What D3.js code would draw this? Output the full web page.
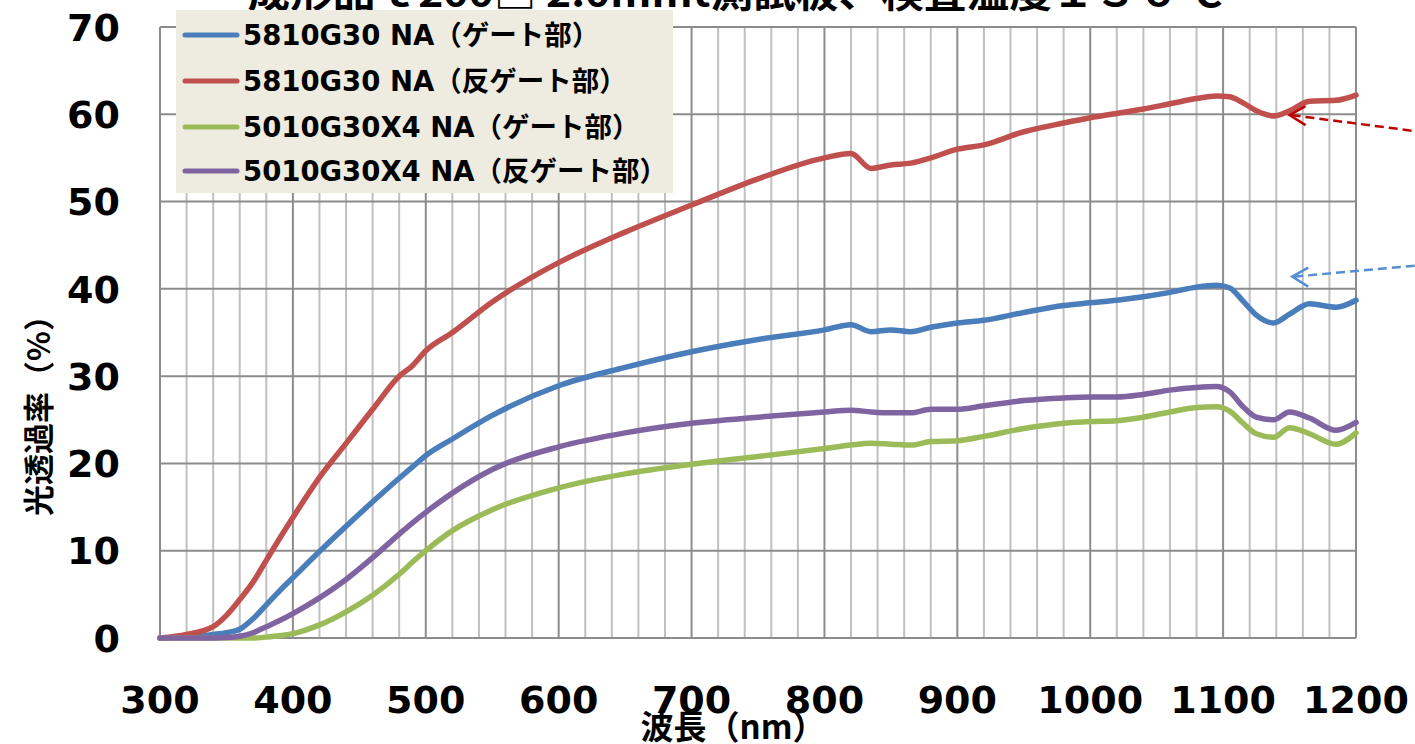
<!DOCTYPE html>
<html>
<head>
<meta charset="utf-8">
<script src="https://cdn.jsdelivr.net/npm/d3@7"></script>
<style>
  body { margin: 0; background: #ffffff; }
  svg { display: block; }
</style>
</head>
<body>
<div id="chart"></div>
<script>
// wavelength (nm) shared by all series
const wavelengths = [300, 320, 340, 350, 360, 370, 380, 390, 400, 420, 440, 460, 480, 490, 500,
  520, 550, 600, 650, 700, 750, 800, 820, 835, 850, 865, 880, 900, 920, 950, 980, 1000,
  1020, 1040, 1060, 1080, 1095, 1105, 1115, 1125, 1138, 1150, 1165, 1185, 1200];

const blueGate = [0, 0.1, 0.4, 0.6, 1.0, 2.2, 3.8, 5.4, 6.9, 9.9, 12.8, 15.6, 18.3, 19.6, 20.9,
  22.8, 25.5, 28.9, 31.0, 32.8, 34.2, 35.3, 35.9, 35.1, 35.3, 35.1, 35.6, 36.1, 36.4, 37.3, 38.1, 38.4,
  38.7, 39.1, 39.6, 40.2, 40.4, 40.1, 38.6, 37.0, 36.1, 37.1, 38.3, 37.9, 38.7];

const redAntiGate = [0, 0.4, 1.3, 2.6, 4.4, 6.4, 8.9, 11.4, 13.8, 18.4, 22.3, 26.2, 30.0, 31.2, 32.9,
  35.0, 38.5, 43.0, 46.5, 49.6, 52.6, 55.0, 55.5, 53.8, 54.2, 54.4, 55.0, 56.0, 56.5, 58.0, 59.0, 59.6,
  60.1, 60.6, 61.2, 61.8, 62.1, 62.0, 61.3, 60.4, 59.8, 60.4, 61.5, 61.6, 62.2];

const greenGate = [0, 0, 0, 0, 0, 0, 0.1, 0.25, 0.5, 1.5, 3.0, 4.9, 7.3, 8.7, 10.0,
  12.3, 14.7, 17.2, 18.8, 19.9, 20.8, 21.7, 22.1, 22.3, 22.2, 22.1, 22.5, 22.6, 23.1, 24.0, 24.6, 24.8,
  24.9, 25.3, 25.9, 26.4, 26.5, 26.0, 24.6, 23.4, 23.0, 24.1, 23.4, 22.2, 23.5];

const purpleAntiGate = [0, 0, 0, 0.05, 0.2, 0.6, 1.3, 2.0, 2.8, 4.6, 6.7, 9.2, 11.9, 13.2, 14.4,
  16.6, 19.3, 21.9, 23.5, 24.6, 25.3, 25.9, 26.1, 25.9, 25.8, 25.8, 26.2, 26.2, 26.6, 27.2, 27.5, 27.6,
  27.6, 27.9, 28.4, 28.7, 28.8, 28.2, 26.5, 25.3, 25.0, 25.9, 25.2, 23.8, 24.7];

const seriesNames = [
  "5810G30 NA（ゲート部）",
  "5810G30 NA（反ゲート部）",
  "5010G30X4 NA（ゲート部）",
  "5010G30X4 NA（反ゲート部）"
];
const seriesValues = [blueGate, redAntiGate, greenGate, purpleAntiGate];
const seriesColors = ["#4a7ebb", "#c0504d", "#9bbb59", "#8064a2"];

const xTicks = [300, 400, 500, 600, 700, 800, 900, 1000, 1100, 1200];
const xMinorTicks = d3.range(300, 1201, 20);
const yTicks = [0, 10, 20, 30, 40, 50, 60, 70];

const titleText = "成形品ｔ200□ 2.0mmt測試板、検査温度１３０℃";
const xTitle = "波長（nm）";
const yTitle = "光透過率（%）";

// arrows pointing at the dips (tip in data units)
const arrowTips = [
  { nm: 1150, v: 59.9, tailV: 58.0, color: "#c00000" },
  { nm: 1152, v: 41.4, tailV: 42.7, color: "#558ed5" }
];

const width = 1415, height = 744;
const margin = { left: 160, right: 59, top: 27, bottom: 106 };
const latin = "'DejaVu Sans', 'Noto Sans CJK JP', sans-serif";
const cjk = "'Noto Sans CJK JP', 'DejaVu Sans', sans-serif";

const svg = d3.select("#chart").append("svg")
  .attr("width", width)
  .attr("height", height);

const x = d3.scaleLinear()
  .domain([300, 1200])
  .range([margin.left, width - margin.right]);

const y = d3.scaleLinear()
  .domain([0, 70])
  .range([height - margin.bottom, margin.top]);

// title (mostly cut off at the top)
svg.append("text")
  .attr("x", 735)
  .attr("y", 7)
  .attr("text-anchor", "middle")
  .attr("textLength", 975)
  .attr("lengthAdjust", "spacingAndGlyphs")
  .style("font-family", cjk)
  .style("font-weight", "700")
  .style("font-size", "38px")
  .attr("fill", "#000")
  .text(titleText);

const grid = svg.append("g");

grid.selectAll("line.minor")
  .data(xMinorTicks.filter(d => d % 100 !== 0))
  .join("line")
  .attr("class", "minor")
  .attr("x1", d => x(d)).attr("x2", d => x(d))
  .attr("y1", y(0)).attr("y2", y(70))
  .attr("stroke", "#c0c0c0")
  .attr("stroke-width", 2);

grid.selectAll("line.majorx")
  .data(xTicks)
  .join("line")
  .attr("class", "majorx")
  .attr("x1", d => x(d)).attr("x2", d => x(d))
  .attr("y1", y(0)).attr("y2", y(70))
  .attr("stroke", "#8c8c8c")
  .attr("stroke-width", 2);

grid.selectAll("line.majory")
  .data(yTicks)
  .join("line")
  .attr("class", "majory")
  .attr("x1", x(300)).attr("x2", x(1200))
  .attr("y1", d => y(d)).attr("y2", d => y(d))
  .attr("stroke", "#8c8c8c")
  .attr("stroke-width", 2);

// tick labels
svg.append("g").selectAll("text")
  .data(yTicks)
  .join("text")
  .attr("x", 120)
  .attr("y", d => y(d))
  .attr("dy", "0.36em")
  .attr("text-anchor", "end")
  .style("font-family", latin)
  .style("font-weight", "700")
  .style("font-size", "38px")
  .text(d => d);

svg.append("g").selectAll("text")
  .data(xTicks)
  .join("text")
  .attr("x", d => x(d))
  .attr("y", 713)
  .attr("text-anchor", "middle")
  .style("font-family", latin)
  .style("font-weight", "700")
  .style("font-size", "38px")
  .text(d => d);

// axis titles
svg.append("text")
  .attr("x", 733)
  .attr("y", 739)
  .attr("text-anchor", "middle")
  .style("font-family", cjk)
  .style("font-weight", "700")
  .style("font-size", "33px")
  .text(xTitle);

svg.append("text")
  .attr("transform", "translate(50,408) rotate(-90)")
  .attr("text-anchor", "middle")
  .style("font-family", cjk)
  .style("font-weight", "700")
  .style("font-size", "31px")
  .text(yTitle);

// series
const line = d3.line()
  .x(d => x(d[0]))
  .y(d => y(d[1]))
  .curve(d3.curveMonotoneX);

const drawOrder = [0, 1, 2, 3];
svg.append("g").selectAll("path")
  .data(drawOrder)
  .join("path")
  .attr("d", i => line(wavelengths.map((w, k) => [w, seriesValues[i][k]])))
  .attr("fill", "none")
  .attr("stroke", i => seriesColors[i])
  .attr("stroke-width", 5.5)
  .attr("stroke-linejoin", "round")
  .attr("stroke-linecap", "round");

// dashed annotation arrows
const arrows = svg.append("g");
arrowTips.forEach(a => {
  const tx = x(a.nm), ty = y(a.v);
  arrows.append("line")
    .attr("x1", tx + 2).attr("y1", ty)
    .attr("x2", width + 5).attr("y2", y(a.tailV))
    .attr("stroke", a.color)
    .attr("stroke-width", 2.5)
    .attr("stroke-dasharray", "9,5");
  arrows.append("path")
    .attr("d", `M${tx + 16},${ty - 9} L${tx},${ty} L${tx + 16},${ty + 10}`)
    .attr("fill", "none")
    .attr("stroke", a.color)
    .attr("stroke-width", 2.5);
});

// legend
const legend = svg.append("g");
legend.append("rect")
  .attr("x", 176)
  .attr("y", 10)
  .attr("width", 497)
  .attr("height", 183)
  .attr("fill", "#eeece1");

const rowY = [35, 81, 127, 171];
seriesNames.forEach((name, i) => {
  legend.append("line")
    .attr("x1", 185).attr("x2", 237)
    .attr("y1", rowY[i]).attr("y2", rowY[i])
    .attr("stroke", seriesColors[i])
    .attr("stroke-width", 5)
    .attr("stroke-linecap", "round");
  legend.append("text")
    .attr("x", 243)
    .attr("y", rowY[i])
    .attr("dy", "0.36em")
    .style("font-family", latin)
    .style("font-weight", "700")
    .style("font-size", "27.5px")
    .text(name);
});
</script>
</body>
</html>
